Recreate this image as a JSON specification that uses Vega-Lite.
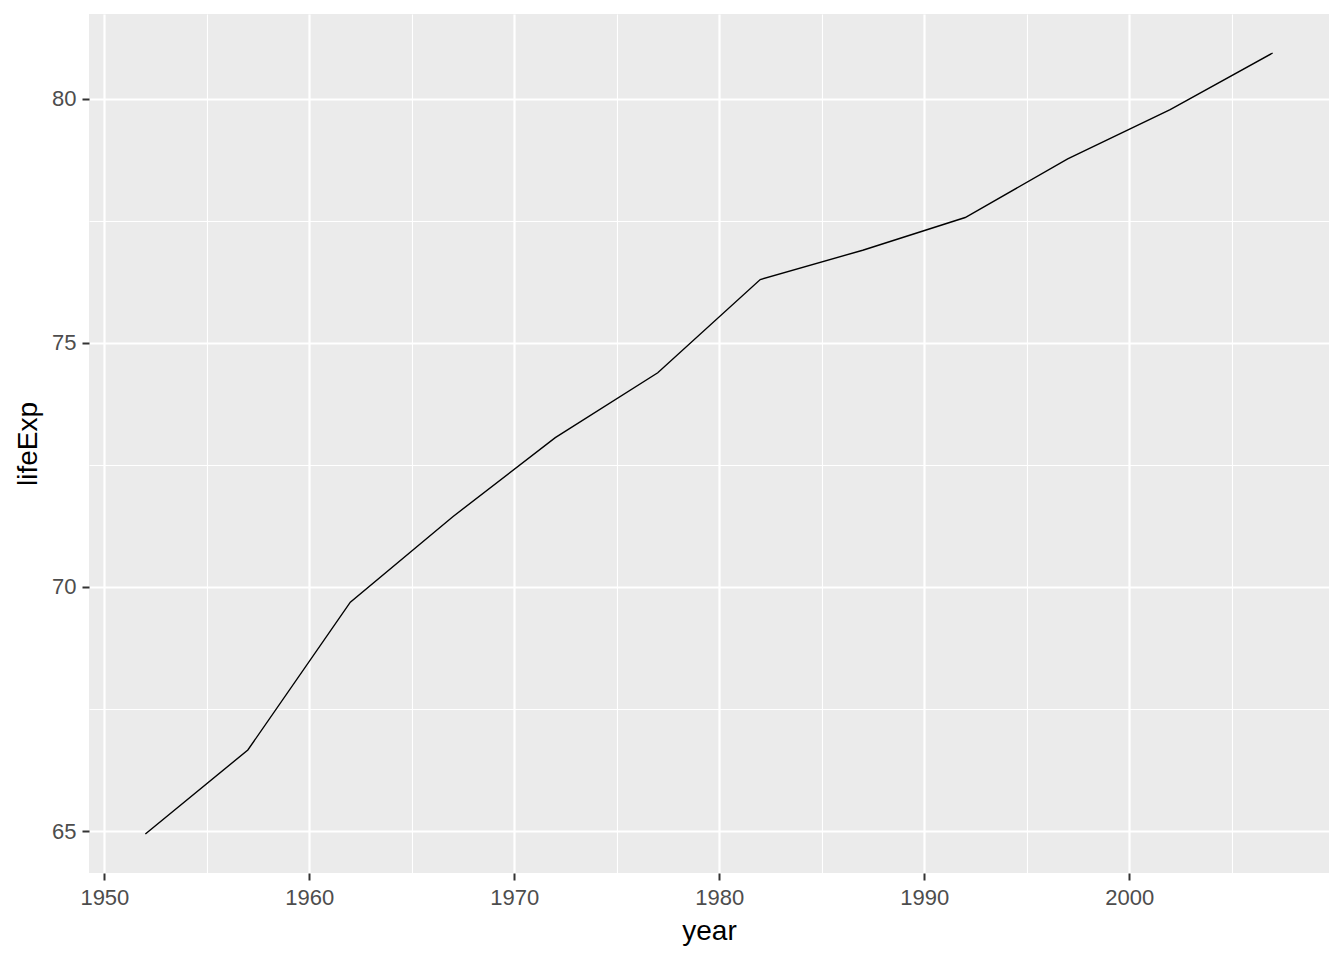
{
  "$schema": "https://vega.github.io/schema/vega-lite/v6.json",
  "width": 1240,
  "height": 859,
  "autosize": {"type": "none"},
  "padding": {"left": 89, "top": 14, "right": 15, "bottom": 87},
  "background": "white",
  "config": {
    "view": {"fill": "#EBEBEB", "stroke": null},
    "font": "Liberation Sans"
  },
  "data": {
    "values": [
      {"year": 1952, "lifeExp": 64.94},
      {"year": 1957, "lifeExp": 66.66},
      {"year": 1962, "lifeExp": 69.69},
      {"year": 1967, "lifeExp": 71.44},
      {"year": 1972, "lifeExp": 73.06},
      {"year": 1977, "lifeExp": 74.39},
      {"year": 1982, "lifeExp": 76.30},
      {"year": 1987, "lifeExp": 76.90},
      {"year": 1992, "lifeExp": 77.57},
      {"year": 1997, "lifeExp": 78.77},
      {"year": 2002, "lifeExp": 79.78},
      {"year": 2007, "lifeExp": 80.941}
    ]
  },
  "mark": {"type": "line", "color": "black", "strokeWidth": 1.4},
  "encoding": {
    "x": {
      "field": "year",
      "type": "quantitative",
      "scale": {"domain": [1949.25, 2009.75], "nice": false, "zero": false},
      "axis": {
        "title": "year",
        "values": [1950, 1955, 1960, 1965, 1970, 1975, 1980, 1985, 1990, 1995, 2000, 2005],
        "labelExpr": "datum.value % 10 === 0 ? datum.label : ''",
        "format": "d",
        "domain": false,
        "grid": true,
        "gridColor": "white",
        "gridWidth": {"condition": {"test": "datum.value % 10 === 0", "value": 2.2}, "value": 1.1},
        "tickOpacity": {"condition": {"test": "datum.value % 10 === 0", "value": 1}, "value": 0},
        "tickColor": "#333333",
        "tickWidth": 2,
        "tickSize": 7,
        "labelFontSize": 22,
        "labelColor": "#4D4D4D",
        "labelPadding": 7,
        "labelFlush": false,
        "labelOverlap": false,
        "titleFontSize": 28,
        "titleFontWeight": "normal",
        "titleColor": "black",
        "titlePadding": 9
      }
    },
    "y": {
      "field": "lifeExp",
      "type": "quantitative",
      "scale": {"domain": [64.14, 81.74], "nice": false, "zero": false},
      "axis": {
        "title": "lifeExp",
        "values": [65, 67.5, 70, 72.5, 75, 77.5, 80],
        "labelExpr": "datum.value % 5 === 0 ? datum.label : ''",
        "format": "d",
        "domain": false,
        "grid": true,
        "gridColor": "white",
        "gridWidth": {"condition": {"test": "datum.value % 5 === 0", "value": 2.2}, "value": 1.1},
        "tickOpacity": {"condition": {"test": "datum.value % 5 === 0", "value": 1}, "value": 0},
        "tickColor": "#333333",
        "tickWidth": 2,
        "tickSize": 7,
        "labelFontSize": 22,
        "labelColor": "#4D4D4D",
        "labelPadding": 6,
        "labelFlush": false,
        "labelOverlap": false,
        "titleFontSize": 28,
        "titleFontWeight": "normal",
        "titleColor": "black",
        "titlePadding": 9
      }
    }
  }
}
